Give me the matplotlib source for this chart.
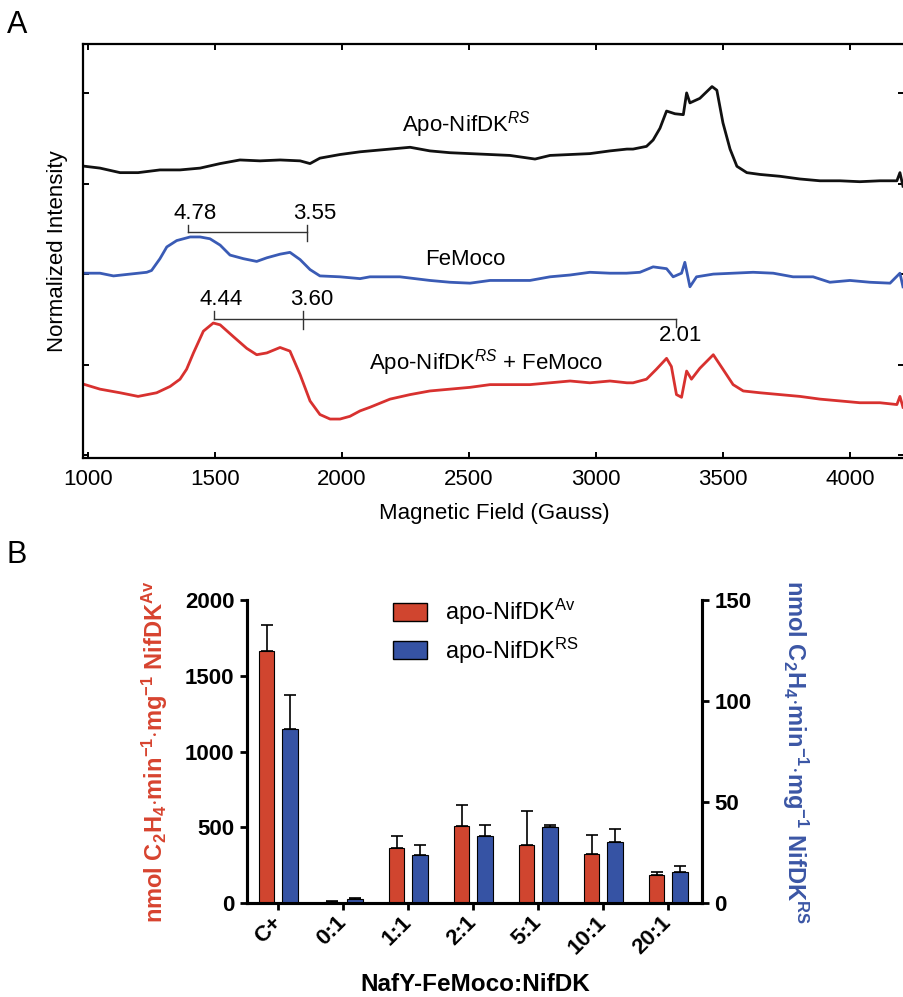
import matplotlib.pyplot as plt
from matplotlib.patches import Patch
import numpy as np

plt.rcParams['font.family'] = ['Liberation Sans', 'DejaVu Sans']
plt.rcParams['mathtext.fontset'] = 'custom'
plt.rcParams['mathtext.rm'] = 'Liberation Sans'
plt.rcParams['mathtext.it'] = 'Liberation Sans:italic'
plt.rcParams['mathtext.bf'] = 'Liberation Sans:bold'

# ---- panel A: EPR spectra, field (G) vs stacked normalized intensity ----
apo_field = [988, 1047, 1126, 1197, 1283, 1362, 1441, 1520, 1598, 1677,
             1756, 1835, 1874, 1913, 1992, 2071, 2110, 2189, 2268, 2346,
             2425, 2504, 2583, 2661, 2760, 2819, 2898, 2976, 3055, 3122,
             3146, 3199, 3225, 3252, 3278, 3311, 3344, 3357, 3370, 3409,
             3457, 3476, 3500, 3528, 3555, 3594, 3646, 3724, 3803, 3882,
             3961, 4039, 4118, 4185, 4197, 4209]
apo_int = [3.19, 3.17, 3.12, 3.12, 3.15, 3.15, 3.17, 3.22, 3.26, 3.25,
           3.26, 3.25, 3.22, 3.28, 3.32, 3.35, 3.36, 3.38, 3.40, 3.36,
           3.34, 3.33, 3.32, 3.31, 3.27, 3.31, 3.32, 3.33, 3.36, 3.38,
           3.38, 3.41, 3.48, 3.61, 3.80, 3.77, 3.76, 4.00, 3.89, 3.94,
           4.07, 4.03, 3.67, 3.38, 3.19, 3.12, 3.10, 3.08, 3.05, 3.03,
           3.03, 3.02, 3.03, 3.03, 3.12, 2.97]

femoco_field = [988, 1047, 1100, 1165, 1231, 1250, 1283, 1310, 1349, 1402,
                1441, 1480, 1520, 1559, 1612, 1664, 1704, 1756, 1795, 1835,
                1874, 1913, 1992, 2071, 2110, 2228, 2346, 2425, 2504, 2583,
                2661, 2740, 2819, 2898, 2976, 3055, 3120, 3173, 3225, 3278,
                3304, 3337, 3350, 3370, 3396, 3462, 3540, 3619, 3698, 3776,
                3855, 3921, 4000, 4079, 4158, 4197, 4209]
femoco_int = [2.01, 2.01, 1.98, 2.00, 2.02, 2.04, 2.17, 2.30, 2.37, 2.41,
              2.41, 2.39, 2.32, 2.21, 2.17, 2.14, 2.18, 2.22, 2.24, 2.16,
              2.05, 1.98, 1.97, 1.95, 1.97, 1.97, 1.93, 1.91, 1.90, 1.93,
              1.93, 1.93, 1.97, 1.99, 2.02, 2.01, 2.01, 2.02, 2.08, 2.06,
              1.97, 2.01, 2.13, 1.86, 1.97, 2.00, 2.01, 2.02, 2.01, 1.97,
              1.97, 1.91, 1.93, 1.91, 1.90, 2.01, 1.86]

mix_field = [988, 1047, 1126, 1197, 1270, 1323, 1362, 1388, 1415, 1454,
             1493, 1520, 1572, 1625, 1664, 1704, 1756, 1795, 1835, 1874,
             1913, 1953, 1992, 2031, 2071, 2110, 2189, 2268, 2346, 2425,
             2504, 2583, 2661, 2740, 2819, 2898, 2976, 3055, 3122, 3146,
             3199, 3238, 3278, 3297, 3317, 3337, 3357, 3376, 3409, 3462,
             3500, 3540, 3580, 3646, 3724, 3803, 3882, 3961, 4039, 4118,
             4185, 4197, 4209]
mix_int = [0.78, 0.73, 0.69, 0.65, 0.69, 0.76, 0.84, 0.95, 1.13, 1.37,
           1.46, 1.44, 1.31, 1.18, 1.11, 1.13, 1.19, 1.15, 0.89, 0.60,
           0.45, 0.40, 0.40, 0.43, 0.49, 0.53, 0.62, 0.67, 0.71, 0.73,
           0.75, 0.78, 0.78, 0.78, 0.80, 0.82, 0.80, 0.82, 0.80, 0.80,
           0.84, 0.95, 1.07, 0.98, 0.67, 0.64, 0.93, 0.84, 0.96, 1.11,
           0.95, 0.78, 0.71, 0.69, 0.67, 0.65, 0.62, 0.60, 0.58, 0.58,
           0.56, 0.65, 0.53]

# g-value markers (field positions in G)
femoco_g = ['4.78', '3.55']
femoco_g_field = [1395, 1861]
mix_g = ['4.44', '3.60', '2.01']
mix_g_field = [1496, 1845, 3315]

# ---- panel B: activity ----
ratios = ['C+', '0:1', '1:1', '2:1', '5:1', '10:1', '20:1']
av_mean = [1663, 8, 363, 510, 380, 321, 185]
av_err = [173, 4, 76, 138, 224, 127, 17]
rs_mean = [86.2, 2.0, 23.7, 33.3, 37.7, 30.2, 15.5]
rs_err = [16.8, 0.5, 4.8, 5.4, 0.7, 6.5, 2.6]

W, H = 904, 997
fig = plt.figure(figsize=(W / 100, H / 100), dpi=100)

def px(x0, y0, x1, y1):
    return [x0 / W, 1 - y1 / H, (x1 - x0) / W, (y1 - y0) / H]

# ================= panel A =================
ax = fig.add_axes(px(83, 44, 904, 458))
ax.plot(apo_field, apo_int, color='#111111', lw=2.0)
ax.plot(femoco_field, femoco_int, color='#3a5bb5', lw=2.0)
ax.plot(mix_field, mix_int, color='#d8312f', lw=2.0)
ax.set_xlim(980, 4213)
ax.set_ylim(-0.03, 4.54)
ax.set_xticks(np.arange(1000, 4001, 500))
ax.set_yticks([0, 1, 2, 3, 4])
ax.tick_params(direction='in', length=4, width=1.4, top=True, right=True,
               labelleft=False, labelsize=16, pad=8)
ax.spines['right'].set_visible(False)
for s in ['left', 'top', 'bottom']:
    ax.spines[s].set_linewidth(1.6)

# FeMoco bracket
lc = '#333333'
ax.plot(femoco_g_field, [2.47, 2.47], color=lc, lw=1)
ax.plot([femoco_g_field[0]] * 2, [2.54, 2.47], color=lc, lw=1)
ax.plot([femoco_g_field[1]] * 2, [2.54, 2.37], color=lc, lw=1)
ax.text(femoco_g_field[0] + 26, 2.67, femoco_g[0], fontsize=16, ha='center', va='center')
ax.text(femoco_g_field[1] + 33, 2.67, femoco_g[1], fontsize=16, ha='center', va='center')
# mixture bracket
ax.plot([mix_g_field[0], mix_g_field[2]], [1.50, 1.50], color=lc, lw=1)
ax.plot([mix_g_field[0]] * 2, [1.59, 1.50], color=lc, lw=1)
ax.plot([mix_g_field[1]] * 2, [1.59, 1.39], color=lc, lw=1)
ax.plot([mix_g_field[2]] * 2, [1.50, 1.42], color=lc, lw=1)
ax.text(mix_g_field[0] + 28, 1.72, mix_g[0], fontsize=16, ha='center', va='center')
ax.text(mix_g_field[1] + 37, 1.72, mix_g[1], fontsize=16, ha='center', va='center')
ax.text(mix_g_field[2] + 20, 1.32, mix_g[2], fontsize=16, ha='center', va='center')

ax.text(2488, 3.65, r'Apo-NifDK$^{\mathit{RS}}$', fontsize=16, ha='center', va='center')
ax.text(2484, 2.16, 'FeMoco', fontsize=16, ha='center', va='center')
ax.text(2567, 1.02, r'Apo-NifDK$^{\mathit{RS}}$ + FeMoco', fontsize=16, ha='center', va='center')

fig.text(58 / W, 1 - 251 / H, 'Normalized Intensity', rotation=90,
         fontsize=16, ha='center', va='center')
fig.text(494 / W, 1 - 514 / H, 'Magnetic Field (Gauss)', fontsize=16,
         ha='center', va='center')
fig.text(17 / W, 1 - 25 / H, 'A', fontsize=22, ha='center', va='center')

# ================= panel B =================
red = '#d0452f'
blue = '#3653a4'
bx = fig.add_axes(px(247, 600, 702, 903))
bx2 = bx.twinx()
x = np.arange(len(ratios))
bw = 0.24
off = 0.18
bx.bar(x - off, av_mean, bw, color=red, edgecolor='black', lw=0.8, zorder=2)
bx.errorbar(x - off, av_mean, yerr=[np.zeros(len(x)), av_err], fmt='none',
            ecolor='black', elinewidth=1.2, capsize=4, capthick=1.2, zorder=1)
bx2.bar(x + off, rs_mean, bw, color=blue, edgecolor='black', lw=0.8, zorder=2)
bx2.errorbar(x + off, rs_mean, yerr=[np.zeros(len(x)), rs_err], fmt='none',
             ecolor='black', elinewidth=1.2, capsize=4, capthick=1.2, zorder=1)

bx.set_xlim(-0.48, 6.52)
bx.set_ylim(0, 2000)
bx2.set_ylim(0, 150)
bx.set_yticks([0, 500, 1000, 1500, 2000])
bx2.set_yticks([0, 50, 100, 150])
bx.set_xticks(x)
bx.set_xticklabels(ratios, rotation=45, ha='right', va='center',
                   rotation_mode='anchor', fontweight='bold', fontsize=16)
for a in (bx, bx2):
    a.spines['top'].set_visible(False)
    for s in ['left', 'right', 'bottom']:
        a.spines[s].set_linewidth(2.2)
    a.tick_params(direction='out', length=5, width=2, labelsize=16, pad=4)
    for lab in a.get_yticklabels():
        lab.set_fontweight('bold')
bx.tick_params(axis='x', pad=7)

handles = [Patch(facecolor=red, edgecolor='black', lw=1),
           Patch(facecolor=blue, edgecolor='black', lw=1)]
bx.legend(handles, [r'apo-NifDK$^{\mathrm{Av}}$', r'apo-NifDK$^{\mathrm{RS}}$'],
          loc='upper left', bbox_to_anchor=(393 / W, 1 - 597 / H),
          bbox_transform=fig.transFigure, frameon=False, fontsize=17,
          handlelength=1.45, handleheight=0.8, handletextpad=0.75,
          labelspacing=0.35, borderpad=0, borderaxespad=0)

fig.text(155 / W, 1 - 752 / H,
         r'nmol C$_\mathbf{2}$H$_\mathbf{4}$$\mathbf{\cdot}$min$^\mathbf{-1}$$\mathbf{\cdot}$mg$^\mathbf{-1}$ NifDK$^\mathbf{Av}$',
         rotation=90, fontsize=17, fontweight='bold', color='#d7432f',
         ha='center', va='center')
fig.text(795 / W, 1 - 752 / H,
         r'nmol C$_\mathbf{2}$H$_\mathbf{4}$$\mathbf{\cdot}$min$^\mathbf{-1}$$\mathbf{\cdot}$mg$^\mathbf{-1}$ NifDK$^\mathbf{RS}$',
         rotation=-90, fontsize=17, fontweight='bold', color='#3b56a5',
         ha='center', va='center')
fig.text(475 / W, 1 - 984 / H, 'NafY-FeMoco:NifDK', fontsize=17.5,
         fontweight='bold', ha='center', va='center')
fig.text(17 / W, 1 - 555 / H, 'B', fontsize=22, ha='center', va='center')

fig.savefig('out.png', dpi=100)
